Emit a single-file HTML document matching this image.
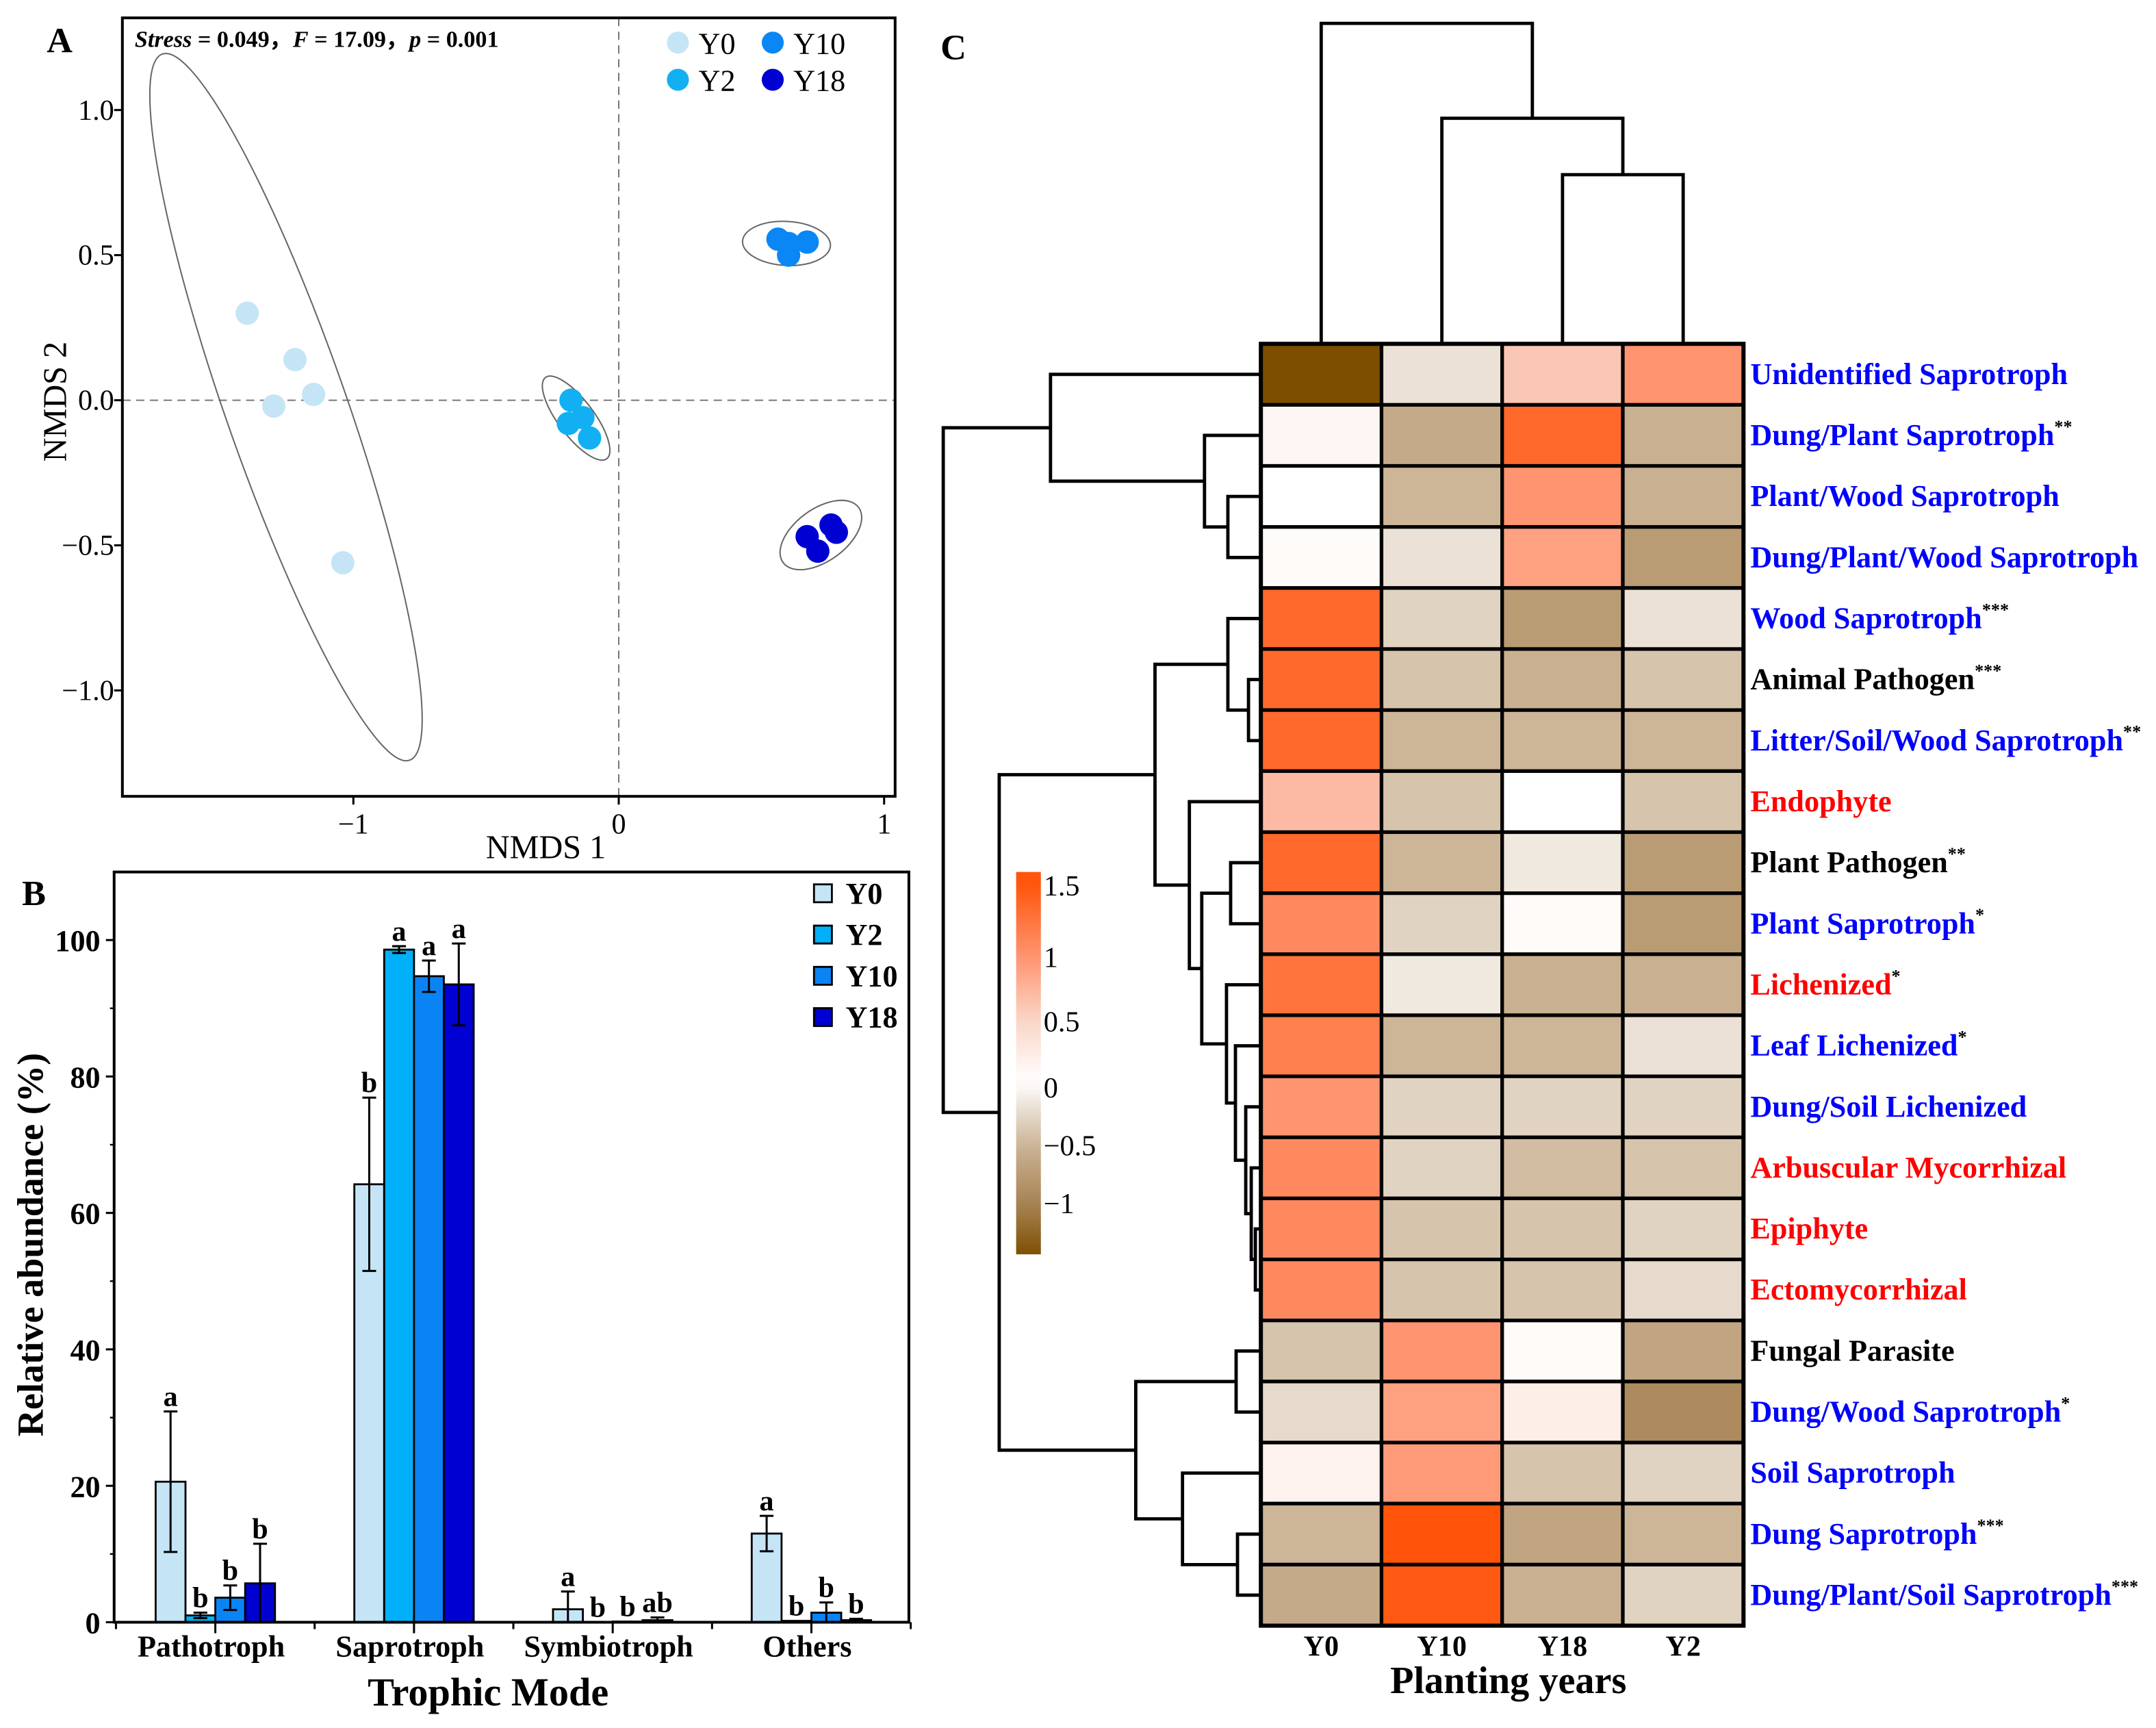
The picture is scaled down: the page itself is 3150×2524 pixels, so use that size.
<!DOCTYPE html>
<html><head><meta charset="utf-8"><style>
html,body{margin:0;padding:0;background:#fff;}
svg{display:block;}
text{font-family:"Liberation Serif",serif;}
</style></head><body>
<svg id="fig" xmlns="http://www.w3.org/2000/svg" width="3150" height="2524" viewBox="0 0 1568 1256.4" preserveAspectRatio="none">
<rect x="0" y="0" width="1568" height="1257" fill="#fff"/>
<g id="pa"></g>
<g id="pb"></g>
<g id="pc"></g>
</svg>
<script>
// ---------- Panel A data ----------
const nmdsGroups = ["Y0","Y2","Y10","Y18"];
const nmdsColors = ["#c5e5f7","#12b0f2","#0a86f5","#0000d2"];
const y0X = [-1.40,-1.22,-1.15,-1.30,-1.04];
const y0Y = [0.30,0.14,0.02,-0.02,-0.56];
const y2X = [-0.18,-0.19,-0.135,-0.11];
const y2Y = [0.0,-0.08,-0.06,-0.13];
const y10X = [0.60,0.64,0.64,0.71];
const y10Y = [0.555,0.54,0.50,0.545];
const y18X = [0.71,0.80,0.82,0.75];
const y18Y = [-0.47,-0.43,-0.455,-0.52];
const nmdsXTicks = [-1,0,1];
const nmdsYTicks = [1.0,0.5,0.0,-0.5,-1.0];

// ---------- Panel B data ----------
const trophicModes = ["Pathotroph","Saprotroph","Symbiotroph","Others"];
const barYears = ["Y0","Y2","Y10","Y18"];
const barColors = ["#c5e5f7","#00b0f8","#0a84f5","#0000d2"];
const valY0 = [20.6,64.2,1.9,13.0];
const valY2 = [1.0,98.6,0.0,0.2];
const valY10 = [3.6,94.7,0.1,1.4];
const valY18 = [5.7,93.5,0.3,0.3];
const errY0 = [10.3,12.7,2.6,2.6];
const errY2 = [0.4,0.5,0,0];
const errY10 = [1.8,2.3,0,1.5];
const errY18 = [5.8,6.0,0.4,0.2];
const letY0 = ["a","b","a","a"];
const letY2 = ["b","a","b","b"];
const letY10 = ["b","a","b","b"];
const letY18 = ["b","a","ab","b"];
const barYTicks = [0,20,40,60,80,100];

// ---------- Panel C data ----------
const hmCols = ["Y0","Y10","Y18","Y2"];
const hmRows = ["Unidentified Saprotroph","Dung/Plant Saprotroph","Plant/Wood Saprotroph","Dung/Plant/Wood Saprotroph","Wood Saprotroph","Animal Pathogen","Litter/Soil/Wood Saprotroph","Endophyte","Plant Pathogen","Plant Saprotroph","Lichenized","Leaf Lichenized","Dung/Soil Lichenized","Arbuscular Mycorrhizal","Epiphyte","Ectomycorrhizal","Fungal Parasite","Dung/Wood Saprotroph","Soil Saprotroph","Dung Saprotroph","Dung/Plant/Soil Saprotroph"];
const hmStars = ["","**","","","***","***","**","","**","*","*","*","","","","","","*","","***","***"];
const hmLabelColors = ["b","b","b","b","b","k","b","r","k","b","r","b","b","r","r","r","k","b","b","b","b"];
const hmY0 = [-1.4,0.1,0.0,0.05,1.4,1.4,1.4,0.7,1.4,1.1,1.3,1.2,1.0,1.1,1.1,1.1,-0.4,-0.25,0.15,-0.5,-0.6];
const hmY10 = [-0.2,-0.6,-0.5,-0.2,-0.3,-0.4,-0.5,-0.4,-0.5,-0.3,-0.15,-0.5,-0.3,-0.3,-0.4,-0.4,1.0,0.9,0.95,1.6,1.55];
const hmY18 = [0.6,1.4,1.0,0.9,-0.75,-0.55,-0.5,0.0,-0.15,0.05,-0.55,-0.5,-0.3,-0.45,-0.4,-0.4,0.05,0.2,-0.4,-0.65,-0.55];
const hmY2 = [1.0,-0.55,-0.55,-0.75,-0.2,-0.4,-0.5,-0.4,-0.75,-0.75,-0.55,-0.2,-0.3,-0.4,-0.3,-0.25,-0.65,-0.9,-0.3,-0.5,-0.3];
const cbTicks = [1.5,1,0.5,0,-0.5,-1];
const cbLabels = ["1.5","1","0.5","0","\u22120.5","\u22121"];

const NS="http://www.w3.org/2000/svg";
function mk(parent,tag,attrs,txt){const e=document.createElementNS(NS,tag);for(const k in attrs)e.setAttribute(k,attrs[k]);if(txt!==undefined)e.textContent=txt;parent.appendChild(e);return e;}

// ===== Panel A =====
(function(){
const g=document.getElementById('pa');
const L=89,R=651,T=13,B=579;
const sx=v=>450+v*193, sy=v=>291-v*211;
let e;
e=mk(g,'line',{x1:sx(0),x2:sx(0),y1:T,y2:B,stroke:'#777','stroke-width':1,'stroke-dasharray':'6,4'});

e=mk(g,'line',{x1:L,x2:R,y1:sy(0),y2:sy(0),stroke:'#777','stroke-width':1,'stroke-dasharray':'6,4'});

const ells=[[208,296,272,44,70.7],[419,304,37,13,53],[572,177,32,16,3],[597,389,34,19,-36]];
ells.forEach((c,i)=>{e=mk(g,'ellipse',{cx:c[0],cy:c[1],rx:c[2],ry:c[3],transform:`rotate(${c[4]} ${c[0]} ${c[1]})`,fill:'none',stroke:'#666','stroke-width':1});
});
const xs=[y0X,y2X,y10X,y18X], ys=[y0Y,y2Y,y10Y,y18Y];
xs.forEach((arr,gi)=>arr.forEach((v,j)=>{e=mk(g,'circle',{cx:sx(v),cy:sy(ys[gi][j]),r:8.5,fill:nmdsColors[gi]});
}));
e=mk(g,'rect',{x:L,y:T,width:R-L,height:B-T,fill:'none',stroke:'#000','stroke-width':2});

nmdsXTicks.forEach(v=>{mk(g,'line',{x1:sx(v),x2:sx(v),y1:B,y2:B+6,stroke:'#000','stroke-width':1.5});
e=mk(g,'text',{x:sx(v),y:B+27,'text-anchor':'middle','font-size':21},v<0?'\u2212'+Math.abs(v):String(v));
});
nmdsYTicks.forEach(v=>{mk(g,'line',{x1:L-6,x2:L,y1:sy(v),y2:sy(v),stroke:'#000','stroke-width':1.5});
e=mk(g,'text',{x:L-6,y:sy(v)+7,'text-anchor':'end','font-size':21},(v<0?'\u2212':'')+Math.abs(v).toFixed(1));
});
e=mk(g,'text',{x:397,y:624,'text-anchor':'middle','font-size':24},'NMDS 1');

e=mk(g,'text',{x:0,y:0,transform:'translate(48,292) rotate(-90)','text-anchor':'middle','font-size':24},'NMDS 2');

e=mk(g,'text',{x:34,y:38,'font-size':26,'font-weight':'bold'},'A');

const st=mk(g,'text',{x:98,y:34,'font-size':17,'font-weight':'bold'});

[["Stress",1],[" = 0.049，",0],["F",1],[" = 17.09，",0],["p",1],[" = 0.001",0]].forEach(p=>mk(st,'tspan',p[1]?{'font-style':'italic'}:{},p[0]));
const lp=[[493,31],[493,58],[562,31],[562,58]];
nmdsGroups.forEach((n,i)=>{e=mk(g,'circle',{cx:lp[i][0],cy:lp[i][1],r:8,fill:nmdsColors[i]});

e=mk(g,'text',{x:lp[i][0]+15,y:lp[i][1]+8,'font-size':22},n);
});
})();

// ===== Panel B =====
(function(){
const g=document.getElementById('pb');
const L=83,R=661,T=634,B=1179.5;
const sy=v=>B-v*4.96;
const cx=i=>156.6+144.5*i;
const bw=21.7;
const vals=[valY0,valY2,valY10,valY18], errs=[errY0,errY2,errY10,errY18], lets=[letY0,letY2,letY10,letY18];
let e;
trophicModes.forEach((m,i)=>{
 barYears.forEach((yr,k)=>{
  const x=cx(i)-2*bw+k*bw, v=vals[k][i], er=errs[k][i];
  e=mk(g,'rect',{x:x,y:sy(v),width:bw,height:B-sy(v),fill:barColors[k],stroke:'#000','stroke-width':1.4});
  
  const xm=x+bw/2;
  if(er>0){
   const lo=Math.max(0,v-er);
   e=mk(g,'path',{d:`M${xm},${sy(lo)}V${sy(v+er)}M${xm-5},${sy(v+er)}H${xm+5}M${xm-5},${sy(lo)}H${xm+5}`,stroke:'#000','stroke-width':1.5,fill:'none'});
   
  }
  e=mk(g,'text',{x:xm,y:sy(v+er)-4,'text-anchor':'middle','font-size':21,'font-weight':'bold'},lets[k][i]);
  
 });
 mk(g,'line',{x1:cx(i),x2:cx(i),y1:B,y2:B+8,stroke:'#000','stroke-width':1.5});
 e=mk(g,'text',{x:cx(i)-3,y:B+25,'text-anchor':'middle','font-size':22,'font-weight':'bold'},m);
 
});
for(let i=0;i<=4;i++){const x=cx(i)-72.25;mk(g,'line',{x1:x,x2:x,y1:B,y2:B+5,stroke:'#000','stroke-width':1.5});}
e=mk(g,'rect',{x:L,y:T,width:R-L,height:B-T,fill:'none',stroke:'#000','stroke-width':2});

barYTicks.forEach(v=>{mk(g,'line',{x1:L-6,x2:L,y1:sy(v),y2:sy(v),stroke:'#000','stroke-width':1.5});
e=mk(g,'text',{x:L-10,y:sy(v)+8,'text-anchor':'end','font-size':22,'font-weight':'bold'},String(v));
});
for(let v=10;v<110;v+=20)mk(g,'line',{x1:L-3,x2:L,y1:sy(v),y2:sy(v),stroke:'#000','stroke-width':1.2});
e=mk(g,'text',{x:355,y:1240,'text-anchor':'middle','font-size':29,'font-weight':'bold'},'Trophic Mode');

e=mk(g,'text',{x:0,y:0,transform:'translate(31,905) rotate(-90)','text-anchor':'middle','font-size':27,'font-weight':'bold'},'Relative abundance (%)');

e=mk(g,'text',{x:16,y:658,'font-size':26,'font-weight':'bold'},'B');

barYears.forEach((n,i)=>{const y=643+i*30;
e=mk(g,'rect',{x:592,y:y,width:13,height:13,fill:barColors[i],stroke:'#000','stroke-width':1.4});

e=mk(g,'text',{x:615,y:y+14,'font-size':22,'font-weight':'bold'},n);
});
})();

// ===== Panel C =====
(function(){
const g=document.getElementById('pc');
const HL=917,HR=1268,HT=250,HB=1182;
const cw=(HR-HL)/hmCols.length, rh=(HB-HT)/hmRows.length;
const rc=i=>HT+rh*(i+0.5), ccx=j=>HL+cw*(j+0.5);
const stops=[[-1.4,[125,78,0]],[-1,[165,128,80]],[-0.5,[205,181,152]],[0,[255,255,255]],[0.5,[250,212,198]],[1,[255,148,112]],[1.6,[255,84,10]]];
function col(v){if(v<=stops[0][0])return 'rgb('+stops[0][1]+')';
 for(let i=1;i<stops.length;i++){if(v<=stops[i][0]){const a=stops[i-1],b=stops[i],t=(v-a[0])/(b[0]-a[0]);
 return 'rgb('+a[1].map((c,k)=>Math.round(c+(b[1][k]-c)*t)).join(',')+')';}}
 return 'rgb('+stops[stops.length-1][1]+')';}
const data=[hmY0,hmY10,hmY18,hmY2];
let e;
hmRows.forEach((r,i)=>{data.forEach((arr,j)=>{
 e=mk(g,'rect',{x:HL+j*cw,y:HT+i*rh,width:cw,height:rh,fill:col(arr[i]),stroke:'#000','stroke-width':2.6});
 });
 const fill=hmLabelColors[i]==='b'?'#0000ff':hmLabelColors[i]==='r'?'#ff0000':'#000';
 e=mk(g,'text',{x:1273,y:rc(i)+7,'font-size':22,'font-weight':'bold',fill:fill},r);
 
 if(hmStars[i])mk(e,'tspan',{'font-size':13,dy:-9,fill:'#000'},hmStars[i]);
});
e=mk(g,'rect',{x:HL,y:HT,width:HR-HL,height:HB-HT,fill:'none',stroke:'#000','stroke-width':3});

hmCols.forEach((c,j)=>{e=mk(g,'text',{x:ccx(j),y:1204,'text-anchor':'middle','font-size':21,'font-weight':'bold'},c);
});
e=mk(g,'text',{x:1097,y:1231,'text-anchor':'middle','font-size':28,'font-weight':'bold'},'Planting years');

e=mk(g,'text',{x:684,y:43,'font-size':26,'font-weight':'bold'},'C');

// dendrograms
const dp=[];
function U(x,ya,yb,x2a,x2b){dp.push(`M${x2a},${ya}H${x}V${yb}H${x2b}`);}
dp.push(`M${ccx(2)},${HT}V127H${ccx(3)}V${HT}`);
const m23=(ccx(2)+ccx(3))/2;
dp.push(`M${ccx(1)},${HT}V86H${m23}V127`);
const m123=(ccx(1)+m23)/2;
dp.push(`M${ccx(0)},${HT}V17H${m123}V86`);
U(893,rc(2),rc(3),HL,HL); const n23=(rc(2)+rc(3))/2;
U(876,rc(1),n23,HL,893); const n123=(rc(1)+n23)/2;
U(764,rc(0),n123,HL,876); const nA=(rc(0)+n123)/2;
U(908,rc(5),rc(6),HL,HL); const n56=(rc(5)+rc(6))/2;
U(893,rc(4),n56,HL,908); const n456=(rc(4)+n56)/2;
U(913,rc(14),rc(15),HL,HL); const n1415=(rc(14)+rc(15))/2;
U(910,rc(13),n1415,HL,913); const n13=(rc(13)+n1415)/2;
U(906,rc(12),n13,HL,910); const n12=(rc(12)+n13)/2;
U(898.5,rc(11),n12,HL,906); const n11=(rc(11)+n12)/2;
U(892,rc(10),n11,HL,898.5); const n10=(rc(10)+n11)/2;
U(895,rc(8),rc(9),HL,HL); const n89=(rc(8)+rc(9))/2;
U(874,n89,n10,895,892); const n8=(n89+n10)/2;
U(865,rc(7),n8,HL,874); const n7=(rc(7)+n8)/2;
U(840,n456,n7,893,865); const n4=(n456+n7)/2;
U(899,rc(16),rc(17),HL,HL); const n1617=(rc(16)+rc(17))/2;
U(900,rc(19),rc(20),HL,HL); const n1920=(rc(19)+rc(20))/2;
U(860,rc(18),n1920,HL,900); const n18=(rc(18)+n1920)/2;
U(826,n1617,n18,899,860); const n16=(n1617+n18)/2;
U(726.7,n4,n16,840,826); const nB=(n4+n16)/2;
U(686,nA,nB,764,726.7);
e=mk(g,'path',{d:dp.join(''),fill:'none',stroke:'#000','stroke-width':2.4,'stroke-linecap':'square'});

const cbT=634,cbB=912,cbTop=1.68,cbBot=-1.38;
const defs=mk(g,'defs',{});
const lg=mk(defs,'linearGradient',{id:'cbg',x1:0,y1:0,x2:0,y2:1});
for(let k=0;k<=30;k++){const v=cbTop-(cbTop-cbBot)*k/30;mk(lg,'stop',{offset:(k/30),'stop-color':col(v)});}
e=mk(g,'rect',{x:739,y:cbT,width:18,height:cbB-cbT,fill:'url(#cbg)'});

const cbY=[644,696,743,791,833,875];
cbTicks.forEach((v,k)=>{e=mk(g,'text',{x:759,y:cbY[k]+7,'font-size':21},cbLabels[k]);
});
})();
</script>
</body></html>
